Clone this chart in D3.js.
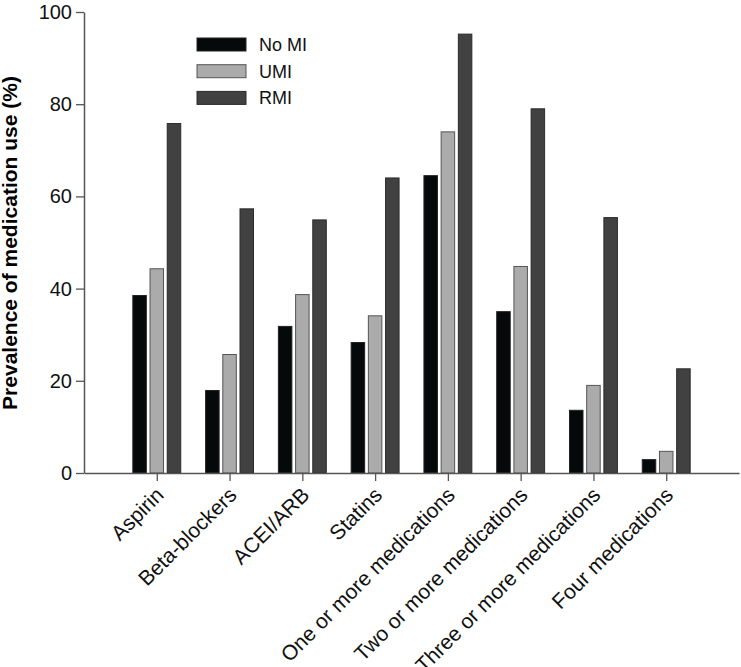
<!DOCTYPE html>
<html>
<head>
<meta charset="utf-8">
<script src="https://cdn.jsdelivr.net/npm/d3@7"></script>
<style>
  body { margin: 0; background: #fff; }
  svg text { font-family: "Liberation Sans", Arial, sans-serif; }
</style>
</head>
<body>
<div id="chart"></div>
<script>
// chart data
var categories = ["Aspirin", "Beta-blockers", "ACEI/ARB", "Statins",
  "One or more medications", "Two or more medications",
  "Three or more medications", "Four medications"];
var seriesNames = ["No MI", "UMI", "RMI"];
var noMI = [38.5, 17.9, 31.8, 28.3, 64.5, 35.0, 13.6, 2.9];
var umi  = [44.3, 25.7, 38.7, 34.1, 74.0, 44.8, 19.0, 4.7];
var rmi  = [75.8, 57.3, 54.9, 64.0, 95.2, 79.0, 55.4, 22.6];
var yTicks = [0, 20, 40, 60, 80, 100];

var fills   = ["#050909", "#ababab", "#414141"];
var strokes = ["#222", "#555", "#2a2a2a"];

var W = 741, H = 667;
var mLeft = 84, mRight = 739, mTop = 12, mBottom = 473;

var svg = d3.select("#chart").append("svg")
  .attr("width", W)
  .attr("height", H);

var x = d3.scalePoint()
  .domain(categories)
  .range([mLeft, mRight])
  .padding(1);

var y = d3.scaleLinear()
  .domain([0, 100])
  .range([mBottom, mTop]);

var barW = 13.5, barStep = 17.2;

// bars, one group per category
var rows = categories.map(function(c, i) {
  return [noMI[i], umi[i], rmi[i]];
});

var groups = svg.selectAll("g.grp")
  .data(rows)
  .enter().append("g")
  .attr("class", "grp")
  .attr("transform", function(d, i) { return "translate(" + x(categories[i]) + ",0)"; });

groups.selectAll("rect")
  .data(function(d) { return d; })
  .enter().append("rect")
  .attr("x", function(d, j) { return (j - 1) * barStep - barW / 2; })
  .attr("y", function(d) { return y(d); })
  .attr("width", barW)
  .attr("height", function(d) { return mBottom - y(d); })
  .attr("fill", function(d, j) { return fills[j]; })
  .attr("stroke", function(d, j) { return strokes[j]; })
  .attr("stroke-width", 1);

// y axis
var yAxis = svg.append("g")
  .attr("transform", "translate(" + mLeft + ",0)")
  .call(d3.axisLeft(y).tickValues(yTicks).tickSize(8).tickPadding(4).tickSizeOuter(0));
yAxis.select(".domain").attr("stroke", "#555").attr("stroke-width", 1.5);
yAxis.selectAll(".tick line").attr("stroke", "#555").attr("stroke-width", 1.3);
yAxis.selectAll("text").attr("font-size", 20).attr("fill", "#111");

// x axis
var xAxis = svg.append("g")
  .attr("transform", "translate(0," + mBottom + ")")
  .call(d3.axisBottom(x).tickSize(8).tickSizeOuter(0));
xAxis.select(".domain").attr("stroke", "#555").attr("stroke-width", 1.5);
xAxis.selectAll(".tick line").attr("stroke", "#555").attr("stroke-width", 1.3);
xAxis.selectAll("text")
  .attr("font-size", 21)
  .attr("fill", "#111")
  .attr("text-anchor", "end")
  .attr("dy", null)
  .attr("x", -11)
  .attr("y", 22)
  .attr("transform", "rotate(-45)");

// y title
svg.append("text")
  .attr("transform", "translate(17,243) rotate(-90)")
  .attr("text-anchor", "middle")
  .attr("font-size", 21)
  .attr("font-weight", "bold")
  .attr("fill", "#000")
  .text("Prevalence of medication use (%)");

// legend
var legend = svg.append("g").attr("transform", "translate(197,38)");
var items = legend.selectAll("g")
  .data(seriesNames)
  .enter().append("g")
  .attr("transform", function(d, i) { return "translate(0," + i * 26.7 + ")"; });
items.append("rect")
  .attr("width", 49)
  .attr("height", 13)
  .attr("fill", function(d, i) { return fills[i]; })
  .attr("stroke", function(d, i) { return strokes[i]; });
items.append("text")
  .attr("x", 62)
  .attr("y", 13)
  .attr("font-size", 18)
  .attr("fill", "#111")
  .text(function(d) { return d; });
</script>
</body>
</html>
